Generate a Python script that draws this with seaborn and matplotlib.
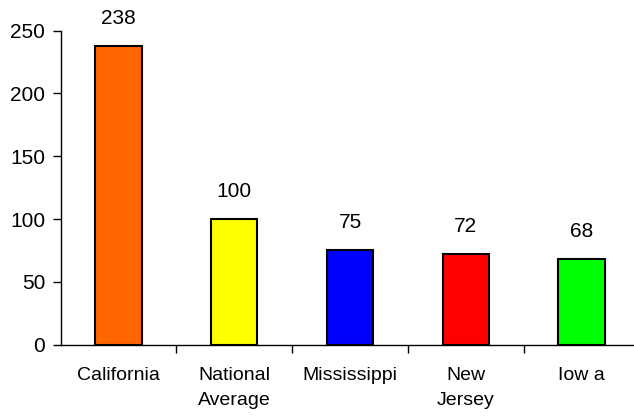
import matplotlib
matplotlib.use("Agg")
import matplotlib.pyplot as plt
import seaborn as sns
import pandas as pd

states = ["California", "National\nAverage", "Mississippi", "New\nJersey", "Iow a"]
values = [238, 100, 75, 72, 68]
colors = ["#FF6600", "#FFFF00", "#0000FF", "#FF0000", "#00FF00"]

df = pd.DataFrame({"state": states, "value": values})

sns.set_style("white")
plt.rcParams["font.family"] = ["Liberation Sans", "DejaVu Sans"]

W, H = 634, 419
fig = plt.figure(figsize=(W / 100, H / 100), dpi=100)
# axes placed in pixels: x from 60.5 to 639.5 (runs off right edge), y from 30.7 to 344.7
ax = fig.add_axes([60.5 / W, (H - 344.7) / H, 579 / W, 314 / H])

sns.barplot(data=df, x="state", y="value", hue="state", palette=colors, saturation=1,
            width=0.4, edgecolor="black", linewidth=1.5, legend=False, ax=ax)

for c in ax.containers:
    ax.bar_label(c, padding=13, fontsize=15, color="black")

ax.set_xlim(-0.5, 4.5)
ax.set_ylim(0, 250)
ax.set_yticks(range(0, 251, 50))
ax.set_xticks([i - 0.5 for i in range(1, 5)])
ax.set_xticklabels([])
ax.set_xticks(range(len(states)), minor=True)
ax.set_xticklabels(states, minor=True, fontsize=14, linespacing=1.65, color="black")
ax.tick_params(axis="x", which="minor", length=0, pad=16)
ax.tick_params(axis="x", which="major", direction="out", length=6, width=1, color="black", bottom=True)
ax.tick_params(axis="y", direction="out", length=6, width=1, color="black", left=True,
               labelsize=15, labelcolor="black", pad=5)
ax.set_xlabel("")
ax.set_ylabel("")

for s in ["top", "right"]:
    ax.spines[s].set_visible(False)
for s in ["left", "bottom"]:
    ax.spines[s].set_color("black")
    ax.spines[s].set_linewidth(1)

fig.savefig("out.png", dpi=100)
